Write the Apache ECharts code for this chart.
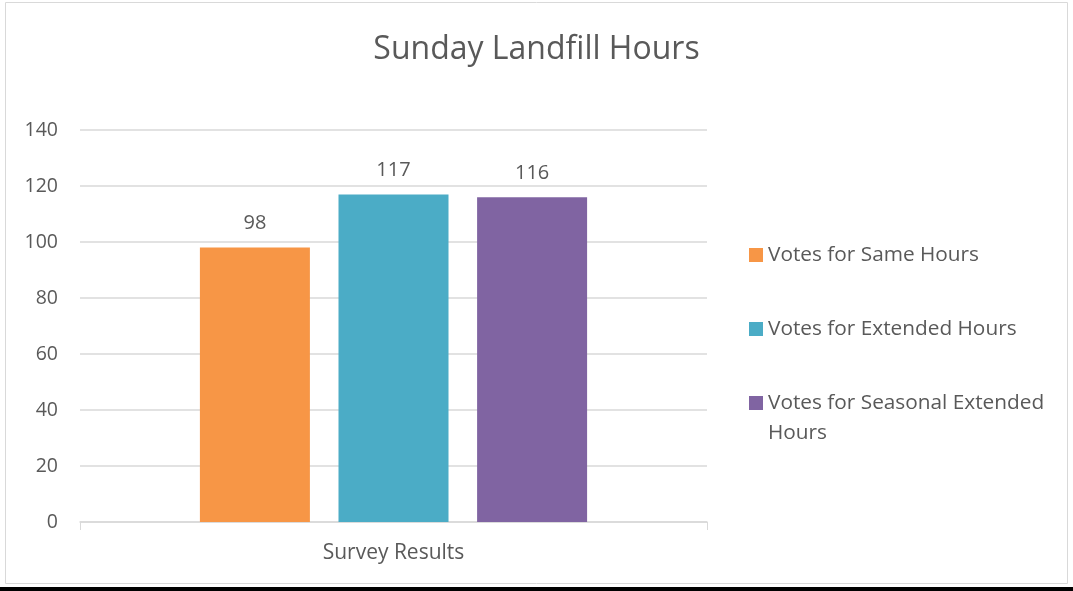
<!DOCTYPE html>
<html>
<head>
<meta charset="utf-8">
<style>
  html, body { margin: 0; padding: 0; background: #fff; }
  #chart { width: 1073px; height: 591px; }
</style>
<script src="https://cdn.jsdelivr.net/npm/echarts@6/dist/echarts.min.js"></script>
</head>
<body>
<div id="chart"></div>
<script>
var categories = ['Survey Results'];
var seriesNames = ['Votes for Same Hours', 'Votes for Extended Hours', 'Votes for Seasonal Extended Hours'];
var seriesValues = [[98], [117], [116]];
var seriesColors = ['#F79646', '#4BACC6', '#8064A2'];
var yTicks = { min: 0, max: 140, interval: 20 };

var font = 'Open Sans';
var grey = '#595959';

var myChart = echarts.init(document.getElementById('chart'));

// 图例：每项单独放；第三项前面加一空行，让图标对齐首行
var legendTops = [240, 314, 358];
var legends = seriesNames.map(function (name, i) {
    return {
        data: [name],
        left: 749,
        top: legendTops[i],
        padding: 0,
        icon: 'rect',
        itemWidth: 14,
        itemHeight: 14,
        itemGap: 5,
        selectedMode: false,
        formatter: i === 2 ? function (n) { return '\n' + n; } : '{name}',
        textStyle: {
            color: grey,
            fontFamily: font,
            fontSize: 20.8,
            lineHeight: 30,
            width: 290,
            overflow: 'break'
        }
    };
});

var series = seriesNames.map(function (name, i) {
    return {
        name: name,
        type: 'bar',
        data: seriesValues[i],
        barWidth: 110,
        barGap: '26%',
        itemStyle: { color: seriesColors[i] },
        label: {
            show: true,
            position: 'top',
            distance: 14,
            color: grey,
            fontFamily: font,
            fontSize: 20
        }
    };
});

var option = {
    animation: false,
    title: {
        text: 'Sunday Landfill Hours',
        left: 'center',
        top: 29,
        textStyle: {
            color: grey,
            fontFamily: font,
            fontSize: 32,
            fontWeight: 'normal'
        }
    },
    legend: legends,
    grid: {
        left: 80,
        right: 366,
        top: 130,
        bottom: 69
    },
    xAxis: {
        type: 'category',
        data: categories,
        axisLine: { lineStyle: { color: '#d9d9d9', width: 1.5 } },
        axisTick: { show: true, length: 8, lineStyle: { color: '#d9d9d9' } },
        axisLabel: {
            color: grey,
            fontFamily: font,
            fontSize: 21,
            margin: 21
        }
    },
    yAxis: {
        type: 'value',
        min: yTicks.min,
        max: yTicks.max,
        interval: yTicks.interval,
        axisLine: { show: false },
        axisTick: { show: false },
        splitLine: { lineStyle: { color: '#d9d9d9', width: 1.5 } },
        axisLabel: {
            color: grey,
            fontFamily: font,
            fontSize: 19.5,
            margin: 22
        }
    },
    series: series,
    graphic: [
        {
            type: 'rect',
            shape: { x: 5.5, y: 2.5, width: 1062, height: 581 },
            style: { fill: 'none', stroke: '#d9d9d9', lineWidth: 1 },
            silent: true
        },
        {
            type: 'rect',
            shape: { x: 0, y: 587, width: 1073, height: 4 },
            style: { fill: '#000' },
            silent: true
        }
    ]
};

myChart.setOption(option);
</script>
</body>
</html>
